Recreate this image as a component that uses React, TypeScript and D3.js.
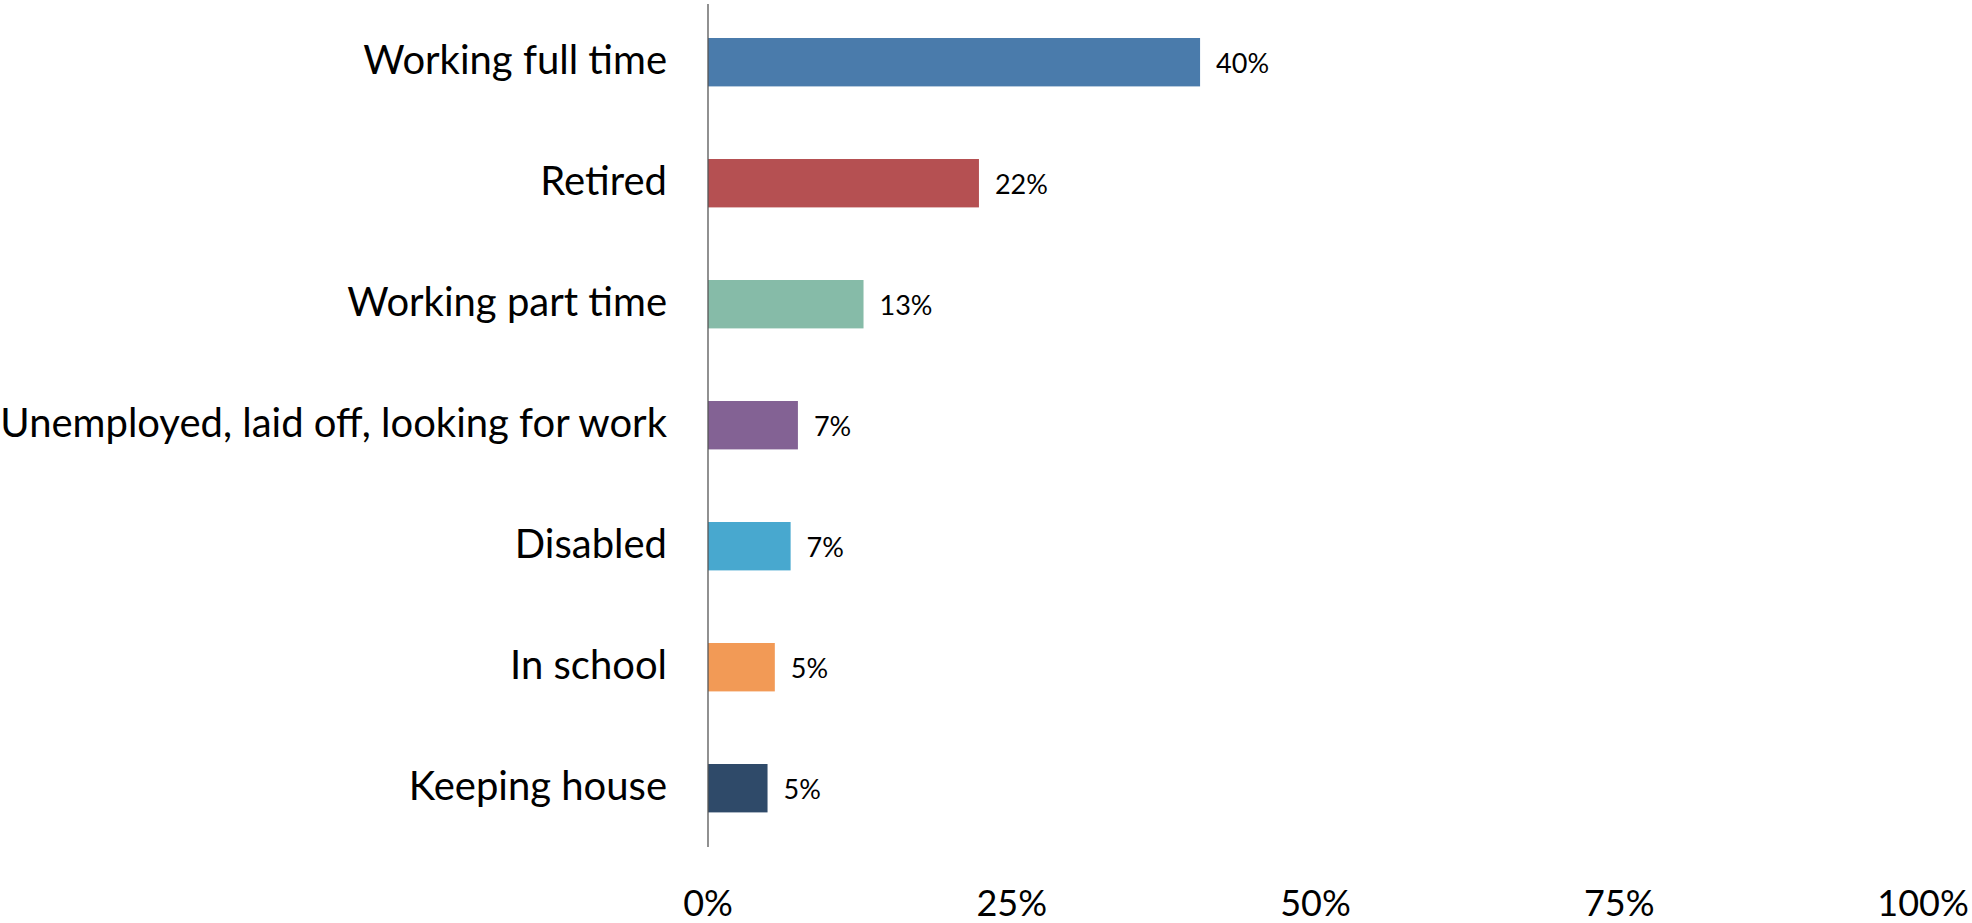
import React from "react";
import * as d3 from "d3";

const categories = [
  "Working full time",
  "Retired",
  "Working part time",
  "Unemployed, laid off, looking for work",
  "Disabled",
  "In school",
  "Keeping house",
];
const values = [40.5, 22.3, 12.8, 7.4, 6.8, 5.5, 4.9];
const labels = ["40%", "22%", "13%", "7%", "7%", "5%", "5%"];
const colors = ["#4a7bab", "#b55052", "#86bba8", "#836294", "#48a8cf", "#f29a56", "#2f4a69"];
const ticks = [0, 25, 50, 75, 100];

const W = 1972;
const H = 923;
const FONT = "Lato, 'Open Sans', sans-serif";

export default function App() {
  const x = d3.scaleLinear().domain([0, 100]).range([708, 1923]);
  const y = d3
    .scaleBand<string>()
    .domain(categories)
    .range([1.7, 848.7])
    .paddingInner(0.6)
    .paddingOuter(0.3);
  const bw = y.bandwidth();

  return (
    <svg
      width={W}
      height={H}
      style={{ position: "absolute", left: 0, top: 0, background: "#fff" }}
      fontFamily={FONT}
    >
      <rect x={0} y={0} width={W} height={H} fill="#fff" />
      {categories.map((c, i) => {
        const yy = y(c)!;
        const cy = yy + bw / 2;
        return (
          <g key={c}>
            <rect x={x(0)} y={yy} width={x(values[i]) - x(0)} height={bw} fill={colors[i]} />
            <text x={667} y={cy + 12} textAnchor="end" fontSize={40} fill="#000">
              {c}
            </text>
            <text x={x(values[i]) + 16} y={cy + 11} textAnchor="start" fontSize={27} fill="#000">
              {labels[i]}
            </text>
          </g>
        );
      })}
      <line x1={x(0)} x2={x(0)} y1={4} y2={847} stroke="#555" strokeWidth={1.3} />
      {ticks.map((t) => (
        <text key={t} x={x(t)} y={916} textAnchor="middle" fontSize={36} fill="#000">
          {t + "%"}
        </text>
      ))}
    </svg>
  );
}
